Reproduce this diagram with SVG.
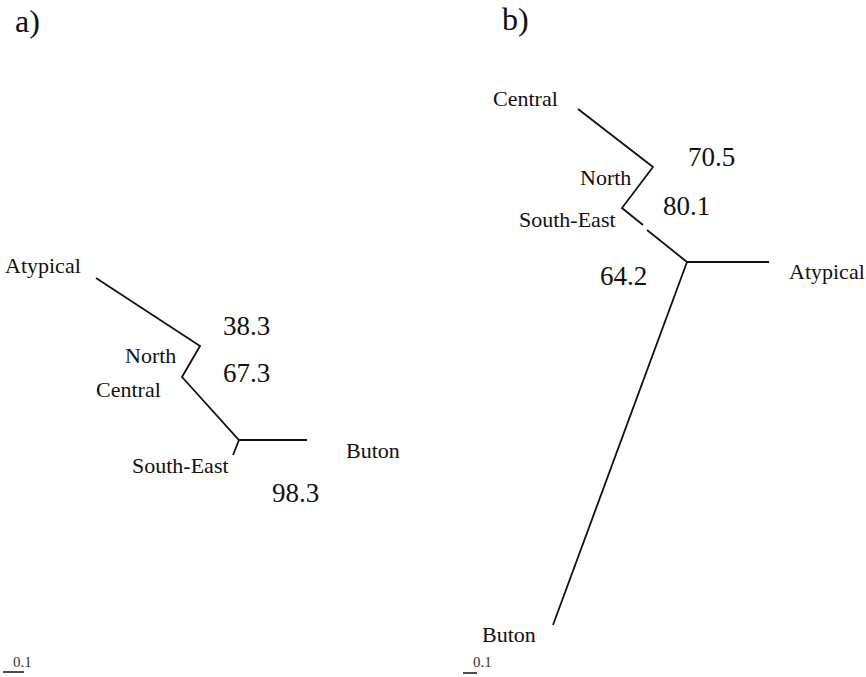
<svg xmlns="http://www.w3.org/2000/svg" width="866" height="677" viewBox="0 0 866 677" font-family="'Times New Roman', 'Liberation Serif', 'DejaVu Serif', serif">
<style>
text{font-family:"Times New Roman","Liberation Serif","DejaVu Serif",serif;fill:#111}
.lbl{font-size:22px}
.num{font-size:27px}
.ttl{font-size:32px}
.sc{font-size:15px;fill:#333}
.br{fill:none;stroke:#111;stroke-width:1.8;stroke-linecap:butt;stroke-linejoin:miter}
</style>
<rect width="866" height="677" fill="#fff"/>
<g id="panel-a">
<text class="ttl" x="15" y="32">a)</text>
<g id="connectors-a">
<polyline class="br" points="96,278 200,346 182,377 239,440 307,440"/>
<line class="br" x1="239" y1="440" x2="233" y2="455"/>
</g>
<g id="a-atypical"><text class="lbl" x="5" y="273">Atypical</text></g>
<g id="a-north"><text class="lbl" x="125" y="363">North</text></g>
<g id="a-central"><text class="lbl" x="96" y="397">Central</text></g>
<g id="a-southeast"><text class="lbl" x="132" y="473">South-East</text></g>
<g id="a-buton"><text class="lbl" x="346" y="458">Buton</text></g>
<g id="a-values">
<text class="num" x="223" y="335">38.3</text>
<text class="num" x="223" y="382">67.3</text>
<text class="num" x="272" y="502">98.3</text>
</g>
<g id="a-scale">
<line x1="3" y1="672" x2="24" y2="672" stroke="#111" stroke-width="1.5"/>
<text class="sc" x="13" y="667">0.1</text>
</g>
</g>
<g id="panel-b">
<text class="ttl" x="502" y="30">b)</text>
<g id="connectors-b">
<polyline class="br" points="578,109 653,167 622,208 643,225"/>
<polyline class="br" points="647,230 687,262 769,262"/>
<line class="br" x1="687" y1="262" x2="553" y2="625"/>
</g>
<g id="b-central"><text class="lbl" x="493" y="106">Central</text></g>
<g id="b-north"><text class="lbl" x="580" y="185">North</text></g>
<g id="b-southeast"><text class="lbl" x="519" y="227">South-East</text></g>
<g id="b-atypical"><text class="lbl" x="789" y="279">Atypical</text></g>
<g id="b-buton"><text class="lbl" x="482" y="642">Buton</text></g>
<g id="b-values">
<text class="num" x="688" y="166">70.5</text>
<text class="num" x="663" y="215">80.1</text>
<text class="num" x="600" y="285">64.2</text>
</g>
<g id="b-scale">
<line x1="463" y1="673" x2="477" y2="673" stroke="#111" stroke-width="1.5"/>
<text class="sc" x="473" y="667">0.1</text>
</g>
</g>
</svg>
